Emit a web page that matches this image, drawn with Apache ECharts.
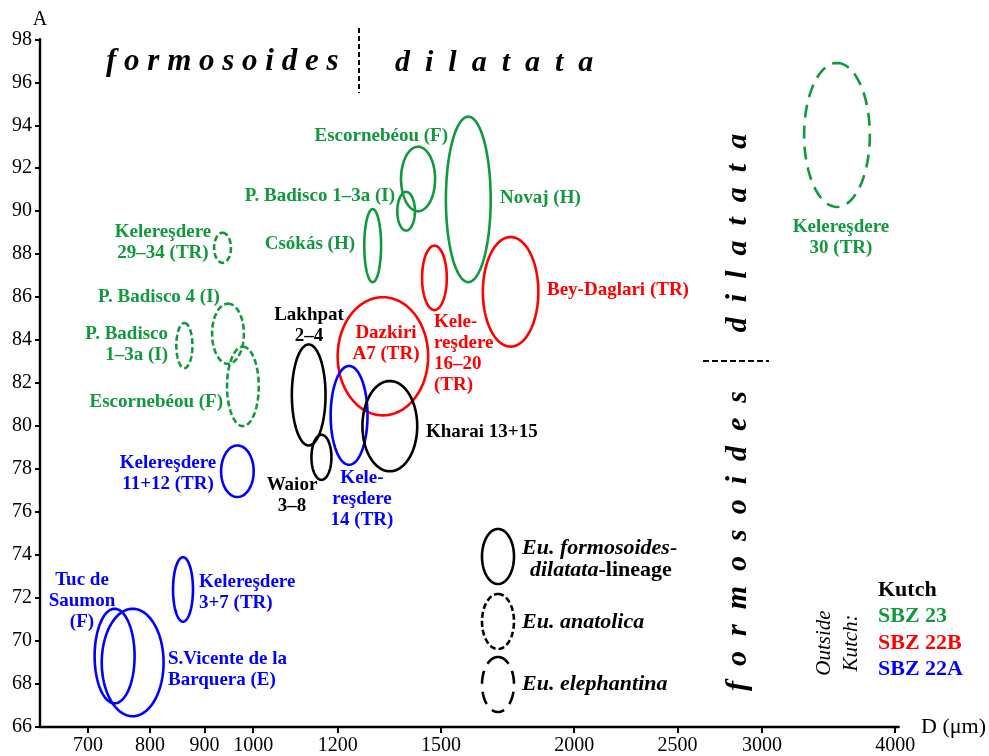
<!DOCTYPE html>
<html>
<head>
<meta charset="utf-8">
<script src="https://cdn.jsdelivr.net/npm/echarts@6/dist/echarts.min.js"></script>
<style>html,body{margin:0;padding:0;background:#fff}#main{width:989px;height:756px}</style>
</head>
<body>
<div id="main"></div>
<script>
// ---------- data ----------
const xTickValues = [700, 800, 900, 1000, 1200, 1500, 2000, 2500, 3000, 4000]; // D (µm), log axis
const yTickMin = 66, yTickMax = 98, yTickStep = 2;                               // A

const ellipseNames = ['Escornebéou (F)', 'P. Badisco 1–3a (I)', 'Novaj (H)', 'Csókás (H)',
  'Kelereşdere 16–20 (TR)', 'Bey-Daglari (TR)', 'Dazkiri A7 (TR)', 'Kelereşdere 14 (TR)',
  'Kharai 13+15', 'Kelereşdere 29–34 (TR)', 'P. Badisco 4 (I)', 'P. Badisco 1–3a (I) anat.',
  'Escornebéou (F) anat.', 'Lakhpat 2–4', 'Waior 3–8', 'Kelereşdere 11+12 (TR)',
  'Kelereşdere 3+7 (TR)', 'Tuc de Saumon (F)', 'S.Vicente de la Barquera (E)', 'Kelereşdere 30 (TR)'];
const dLow  = [1376, 1365, 1516, 1271, 1440, 1642, 1200, 1182, 1266, 919, 915, 847, 945, 1087, 1134, 933, 841, 710, 721, 3286];
const dHigh = [1481, 1418, 1670, 1318, 1519, 1851, 1459, 1280, 1425, 953, 980, 877, 1012, 1169, 1184, 1001, 878, 774, 824, 3787];
const aLow  = [90.0, 89.1, 86.7, 86.7, 85.4, 83.7, 80.5, 78.2, 77.9, 87.6, 82.9, 82.7, 80.0, 79.1, 77.5, 76.7, 70.9, 67.1, 66.5, 90.2];
const aHigh = [93.0, 90.9, 94.4, 90.1, 88.4, 88.8, 86.0, 82.8, 82.1, 89.0, 85.7, 84.8, 83.7, 83.8, 79.6, 79.1, 73.9, 71.5, 71.5, 96.9];
const zones = ['SBZ 23', 'SBZ 23', 'SBZ 23', 'SBZ 23', 'SBZ 22B', 'SBZ 22B', 'SBZ 22B', 'SBZ 22A',
  'Kutch', 'SBZ 23', 'SBZ 23', 'SBZ 23', 'SBZ 23', 'Kutch', 'Kutch', 'SBZ 22A', 'SBZ 22A', 'SBZ 22A', 'SBZ 22A', 'SBZ 23'];
const species = ['lineage', 'lineage', 'lineage', 'lineage', 'lineage', 'lineage', 'lineage', 'lineage',
  'lineage', 'anatolica', 'anatolica', 'anatolica', 'anatolica', 'lineage', 'lineage', 'lineage',
  'lineage', 'lineage', 'lineage', 'elephantina'];

// ---------- styles ----------
const FONT = '"Liberation Serif", "Times New Roman", serif';
const zoneColor = { 'Kutch': '#000000', 'SBZ 23': '#12993d', 'SBZ 22B': '#ff0000', 'SBZ 22A': '#0000ff' };
const speciesDash = { 'lineage': null, 'anatolica': [6, 3], 'elephantina': [13, 8] };
const LW = 2.6;

const ellipseData = dLow.map((d, i) => [Math.log10(d), Math.log10(dHigh[i]), aLow[i], aHigh[i], i]);

function ellipsePoints(cx, cy, rx, ry) {
  const pts = [];
  for (let k = 0; k < 96; k++) {
    const t = k / 96 * Math.PI * 2 - Math.PI / 2;
    pts.push([cx + rx * Math.cos(t), cy + ry * Math.sin(t)]);
  }
  return pts;
}

function renderEllipse(params, api) {
  const i = api.value(4);
  const p1 = api.coord([api.value(0), api.value(2)]);
  const p2 = api.coord([api.value(1), api.value(3)]);
  const cx = (p1[0] + p2[0]) / 2, cy = (p1[1] + p2[1]) / 2;
  const rx = Math.abs(p2[0] - p1[0]) / 2, ry = Math.abs(p2[1] - p1[1]) / 2;
  const style = { fill: 'none', stroke: zoneColor[zones[i]], lineWidth: LW };
  const dash = speciesDash[species[i]];
  if (dash) style.lineDash = dash;
  return { type: 'polygon', shape: { points: ellipsePoints(cx, cy, rx, ry) }, style: style };
}

// ---------- annotations ----------
const G = zoneColor['SBZ 23'], R = zoneColor['SBZ 22B'], B = zoneColor['SBZ 22A'], K = '#000';
const labelFont = 'bold 19px ' + FONT;
const labels = [
  ['Escornebéou (F)', 448, 136, 'right', G],
  ['P. Badisco 1–3a (I)', 395, 196, 'right', G],
  ['Csókás (H)', 355, 244, 'right', G],
  ['Novaj (H)', 500, 198, 'left', G],
  ['Kelereşdere\n29–34 (TR)', 163, 243, 'center', G],
  ['P. Badisco 4 (I)', 159, 297, 'center', G],
  ['P. Badisco\n1–3a (I)', 168, 345, 'right', G],
  ['Escornebéou (F)', 223, 402, 'right', G],
  ['Kelereşdere\n30 (TR)', 841, 238, 'center', G],
  ['Bey-Daglari (TR)', 547, 290, 'left', R],
  ['Dazkiri\nA7 (TR)', 386, 343.5, 'center', R],
  ['Kele-\nreşdere\n16–20\n(TR)', 434, 354, 'left', R],
  ['Kele-\nreşdere\n14 (TR)', 362, 499, 'center', B],
  ['Kelereşdere\n11+12 (TR)', 168, 474, 'center', B],
  ['Kelereşdere\n3+7 (TR)', 199, 592.5, 'left', B],
  ['Tuc de\nSaumon\n(F)', 82, 601, 'center', B],
  ['S.Vicente de la\nBarquera (E)', 168, 669.5, 'left', B],
  ['Lakhpat\n2–4', 309, 326, 'center', K],
  ['Waior\n3–8', 292, 496, 'center', K],
  ['Kharai 13+15', 426, 432, 'left', K]
];

const graphics = [];
labels.forEach(l => graphics.push({
  type: 'text', x: l[1], y: l[2], silent: true,
  style: { text: l[0], font: labelFont, fill: l[4], align: l[3], verticalAlign: 'middle', lineHeight: 21 }
}));

// big italic words
const bigFont = s => 'italic bold ' + s + 'px ' + FONT;
graphics.push(
  { type: 'text', x: 106, y: 62, silent: true, style: { text: 'f o r m o s o i d e s', font: bigFont(31), fill: '#000', align: 'left', verticalAlign: 'middle' } },
  { type: 'text', x: 395, y: 63, silent: true, style: { text: 'd  i  l  a  t  a  t  a', font: bigFont(30), fill: '#000', align: 'left', verticalAlign: 'middle' } },
  { type: 'text', x: 738, y: 541, rotation: Math.PI / 2, silent: true, style: { text: 'f  o  r  m  o  s  o  i  d  e  s', font: bigFont(30), fill: '#000', align: 'center', verticalAlign: 'middle' } },
  { type: 'text', x: 738, y: 233, rotation: Math.PI / 2, silent: true, style: { text: 'd  i  l  a  t  a  t  a', font: bigFont(30), fill: '#000', align: 'center', verticalAlign: 'middle' } },
  { type: 'line', silent: true, shape: { x1: 359, y1: 28, x2: 359, y2: 93 }, style: { stroke: '#000', lineWidth: 2, lineDash: [5, 3] } },
  { type: 'line', silent: true, shape: { x1: 703, y1: 361, x2: 769, y2: 361 }, style: { stroke: '#000', lineWidth: 2, lineDash: [6, 3] } }
);

// legend (species line styles)
const legendItems = [
  ['lineage', 556.5], ['anatolica', 621.5], ['elephantina', 684.5]
];
legendItems.forEach(it => {
  const st = { fill: 'none', stroke: '#000', lineWidth: LW };
  if (speciesDash[it[0]]) st.lineDash = speciesDash[it[0]];
  graphics.push({ type: 'polygon', silent: true, shape: { points: ellipsePoints(498, it[1], 16, 27.5) }, style: st });
});
const legFont = 'italic bold 22px ' + FONT;
graphics.push(
  { type: 'text', x: 522, y: 548, silent: true, style: { text: 'Eu. formosoides-', font: legFont, fill: '#000', align: 'left', verticalAlign: 'middle' } },
  { type: 'text', x: 530, y: 570, silent: true, style: { text: '{i|dilatata}{b|-lineage}', fill: '#000', align: 'left', verticalAlign: 'middle',
      rich: { i: { font: legFont, fill: '#000' }, b: { font: 'bold 22px ' + FONT, fill: '#000' } } } },
  { type: 'text', x: 522, y: 622, silent: true, style: { text: 'Eu. anatolica', font: legFont, fill: '#000', align: 'left', verticalAlign: 'middle' } },
  { type: 'text', x: 522, y: 684, silent: true, style: { text: 'Eu. elephantina', font: legFont, fill: '#000', align: 'left', verticalAlign: 'middle' } }
);

// legend (zones)
const zoneLegend = ['Kutch', 'SBZ 23', 'SBZ 22B', 'SBZ 22A'];
zoneLegend.forEach((z, k) => graphics.push({
  type: 'text', x: 878, y: 590 + k * 26.6, silent: true,
  style: { text: z, font: 'bold 22px ' + FONT, fill: zoneColor[z], align: 'left', verticalAlign: 'middle' }
}));
graphics.push({ type: 'text', x: 838, y: 643, rotation: Math.PI / 2, silent: true,
  style: { text: 'Outside\nKutch:', font: 'italic 21px ' + FONT, fill: '#000', align: 'center', verticalAlign: 'middle', lineHeight: 27 } });

// ---------- chart ----------
const xLogTicks = xTickValues.map(v => Math.log10(v));

const chart = echarts.init(document.getElementById('main'), null, { renderer: 'canvas' });
chart.setOption({
  animation: false,
  backgroundColor: '#fff',
  grid: { left: 40, right: 86, top: 39.3, bottom: 29, containLabel: false },
  xAxis: {
    type: 'value', min: Math.log10(631), max: Math.log10(4030),
    name: 'D (μm)', nameLocation: 'end', nameGap: 16,
    nameTextStyle: { fontFamily: FONT, fontSize: 22, color: '#000', verticalAlign: 'middle' },
    axisLine: { lineStyle: { color: '#000', width: 2.4 } },
    axisTick: { show: true, inside: false, length: 6, lineStyle: { color: '#000', width: 2 }, customValues: xLogTicks },
    axisLabel: { customValues: xLogTicks, margin: 9, fontFamily: FONT, fontSize: 20, color: '#000',
      formatter: v => String(Math.round(Math.pow(10, v))) },
    splitLine: { show: false }
  },
  yAxis: {
    type: 'value', min: yTickMin, max: yTickMax, interval: yTickStep,
    name: 'A', nameLocation: 'end', nameGap: 18,
    nameTextStyle: { fontFamily: FONT, fontSize: 20, color: '#000', align: 'center', verticalAlign: 'middle' },
    axisLine: { show: true, lineStyle: { color: '#000', width: 2.4 } },
    axisTick: { show: true, inside: false, length: 5, lineStyle: { color: '#000', width: 2 } },
    axisLabel: { margin: 8, fontFamily: FONT, fontSize: 20, color: '#000' },
    splitLine: { show: false }
  },
  series: [{
    type: 'custom', name: 'ellipses', data: ellipseData,
    encode: { x: [0, 1], y: [2, 3] },
    renderItem: renderEllipse, clip: false, silent: true
  }],
  graphic: { elements: graphics }
});
</script>
</body>
</html>
